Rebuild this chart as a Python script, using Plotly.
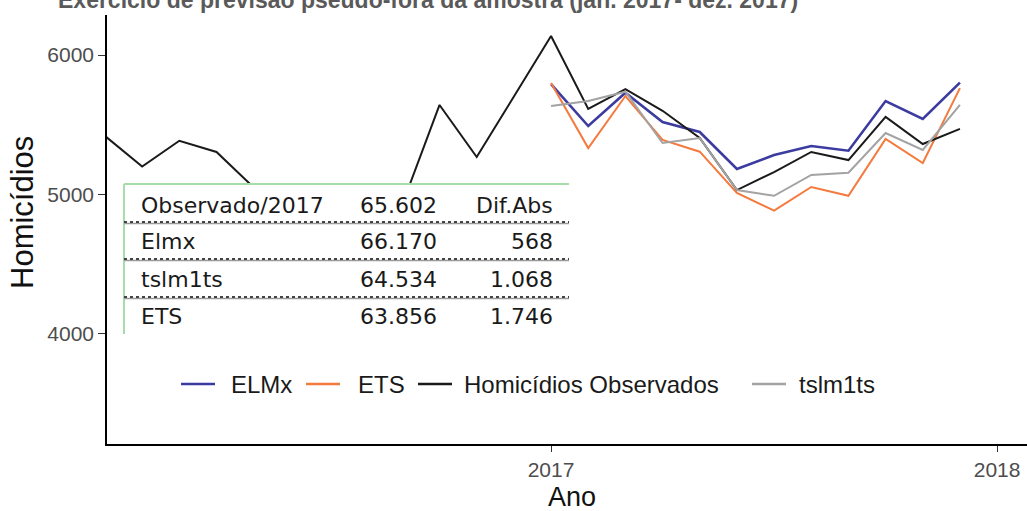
import plotly.graph_objects as go

# ---------------- data ----------------
obs_years = [2016] * 12 + [2017] * 12
obs_months = list(range(1, 13)) * 2
observados = [5420, 5200, 5385, 5305, 5050, 4880, 4820, 4790, 4930, 5642, 5269, 5706,
              6136, 5613, 5756, 5600, 5405, 5032, 5161, 5305, 5247, 5556, 5362, 5470]

fc_months = list(range(1, 13))
elmx = [5792, 5491, 5730, 5520, 5448, 5183, 5283, 5348, 5314, 5670, 5541, 5802]
ets = [5799, 5333, 5706, 5391, 5307, 5011, 4884, 5054, 4991, 5398, 5226, 5763]
tslm1ts = [5634, 5670, 5737, 5369, 5405, 5032, 4991, 5140, 5156, 5441, 5319, 5642]

series_names = ["ELMx", "ETS", "Homicídios Observados", "tslm1ts"]
series_colors = ["#3b3ba0", "#f47a3d", "#1a1a1a", "#a3a3a3"]

table_labels = ["Observado/2017", "Elmx", "tslm1ts", "ETS"]
table_totals = ["65.602", "66.170", "64.534", "63.856"]
table_diffs = ["Dif.Abs", "568", "1.068", "1.746"]

x_ticks = [2017, 2018]
y_ticks = [4000, 5000, 6000]

title_text = "Exercício de previsão pseudo-fora da amostra (jan. 2017- dez. 2017)"

# ---------------- layout geometry (pixels) ----------------
W, H = 1027, 511
ML, MR, MT, MB = 107, 0, 15, 67
PW, PH = W - ML - MR, H - MT - MB


def px(xp):
    return (xp - ML) / PW


def py(yp):
    return (H - MB - yp) / PH


obs_t = [y + (m - 1) / 12 for y, m in zip(obs_years, obs_months)]
fc_t = [2017 + (m - 1) / 12 for m in fc_months]

fig = go.Figure()
widths = [2.6, 2.0, 2.0, 2.0]
data_map = {
    "ELMx": (fc_t, elmx),
    "ETS": (fc_t, ets),
    "Homicídios Observados": (obs_t, observados),
    "tslm1ts": (fc_t, tslm1ts),
}
for name, col, w in zip(series_names, series_colors, widths):
    xs, ys = data_map[name]
    fig.add_trace(go.Scatter(x=xs, y=ys, mode="lines", name=name,
                             line=dict(color=col, width=w), showlegend=False))

shapes = []
annotations = []

# ---- inset table ----
tx0, tx1, ty0, ty1 = 124, 569, 184, 334
shapes.append(dict(type="rect", xref="paper", yref="paper", x0=px(tx0), x1=px(tx1),
                   y0=py(ty1), y1=py(ty0), fillcolor="white", line=dict(width=0),
                   layer="above"))
shapes.append(dict(type="line", xref="paper", yref="paper", x0=px(tx0), x1=px(tx1),
                   y0=py(ty0), y1=py(ty0), line=dict(color="#a8dca8", width=2), layer="above"))
shapes.append(dict(type="line", xref="paper", yref="paper", x0=px(tx0), x1=px(tx0),
                   y0=py(ty0), y1=py(ty1), line=dict(color="#a8dca8", width=2), layer="above"))
for sep in [222, 259, 297]:
    shapes.append(dict(type="line", xref="paper", yref="paper", x0=px(tx0), x1=px(tx1),
                       y0=py(sep + 1.5), y1=py(sep + 1.5), line=dict(color="#9a9a9a", width=1.5),
                       layer="above"))
    shapes.append(dict(type="line", xref="paper", yref="paper", x0=px(tx0), x1=px(tx1),
                       y0=py(sep), y1=py(sep), line=dict(color="#444444", width=2, dash="dot"),
                       layer="above"))
row_centers = [205, 242, 279, 316]
tfont = dict(family="DejaVu Sans", size=22, color="#1a1a1a")
for i, yc in enumerate(row_centers):
    annotations.append(dict(xref="paper", yref="paper", x=px(139), y=py(yc), text=table_labels[i],
                            showarrow=False, xanchor="left", yanchor="middle", font=tfont))
    annotations.append(dict(xref="paper", yref="paper", x=px(439), y=py(yc), text=table_totals[i],
                            showarrow=False, xanchor="right", yanchor="middle", font=tfont))
    annotations.append(dict(xref="paper", yref="paper", x=px(555), y=py(yc), text=table_diffs[i],
                            showarrow=False, xanchor="right", yanchor="middle", font=tfont))

# ---- legend (custom row) ----
leg_y = 384
leg_line_x = [(181, 215), (306, 340), (418, 452), (752, 786)]
leg_text_x = [229, 356, 462, 797]
for name, col, (a, b), tx in zip(series_names, series_colors, leg_line_x, leg_text_x):
    shapes.append(dict(type="line", xref="paper", yref="paper", x0=px(a), x1=px(b),
                       y0=py(leg_y), y1=py(leg_y), line=dict(color=col, width=2.6)))
    annotations.append(dict(xref="paper", yref="paper", x=px(tx), y=py(leg_y), text=name,
                            showarrow=False, xanchor="left", yanchor="middle",
                            font=dict(family="Liberation Sans", size=24, color="#1a1a1a")))

# ---- titles ----
annotations.append(dict(xref="paper", yref="paper", x=px(56), y=py(0), text="<b>" + title_text + "</b>",
                        showarrow=False, xanchor="left", yanchor="middle",
                        font=dict(family="Liberation Sans", size=23, color="#5a5a5a")))
annotations.append(dict(xref="paper", yref="paper", x=px(572), y=py(497), text="Ano",
                        showarrow=False, xanchor="center", yanchor="middle",
                        font=dict(family="Liberation Sans", size=27, color="#111111")))
annotations.append(dict(xref="paper", yref="paper", x=px(22), y=py(213), text="Homicídios",
                        showarrow=False, xanchor="center", yanchor="middle", textangle=-90,
                        font=dict(family="Liberation Sans", size=31, color="#111111")))

fig.update_layout(
    width=W, height=H,
    margin=dict(l=ML, r=MR, t=MT, b=MB),
    paper_bgcolor="white", plot_bgcolor="white",
    shapes=shapes, annotations=annotations,
    showlegend=False,
    font=dict(family="Liberation Sans"),
)
fig.update_xaxes(range=[2016.0045, 2018.067], tickvals=x_ticks, ticktext=[str(t) for t in x_ticks],
                 showgrid=False, zeroline=False, showline=True, linecolor="black", linewidth=1.5,
                 ticks="outside", ticklen=6, tickcolor="#333333", tickwidth=1.2,
                 tickfont=dict(family="Liberation Sans", size=21, color="#4d4d4d"))
fig.update_yaxes(range=[3211, 6287], tickvals=y_ticks, ticktext=[str(t) for t in y_ticks],
                 showgrid=False, zeroline=False, showline=True, linecolor="black", linewidth=1.5,
                 ticks="outside", ticklen=7, tickcolor="#333333", tickwidth=1.2,
                 tickfont=dict(family="Liberation Sans", size=21, color="#4d4d4d"))

fig.write_html("out.html", config={"displayModeBar": False},
               post_script="document.body.style.margin='0px';")
